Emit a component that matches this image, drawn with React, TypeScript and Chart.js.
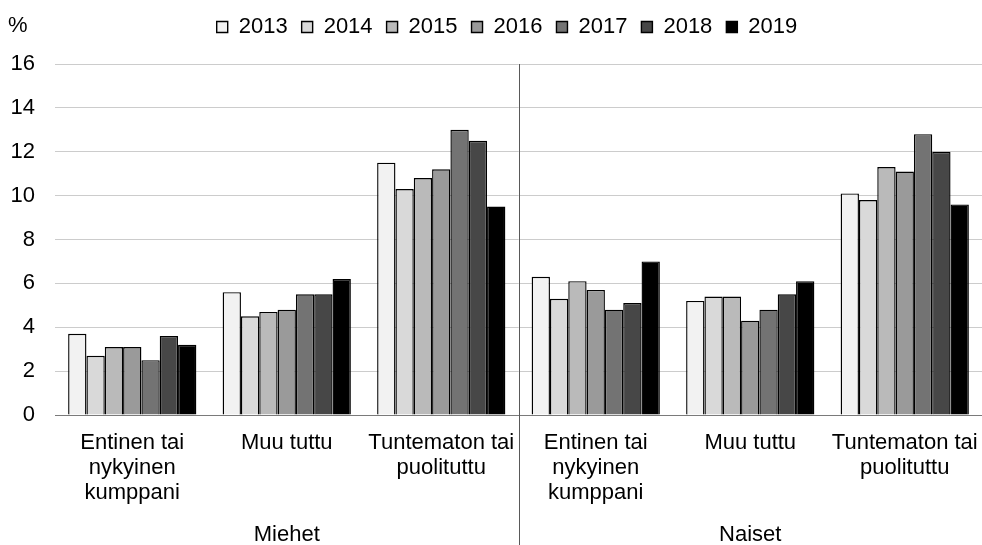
import React, { useEffect, useRef } from 'react';
import { Chart, registerables } from 'chart.js';

Chart.register(...registerables);

const categories: string[][] = [
  ['Entinen tai', 'nykyinen', 'kumppani'],
  ['Muu tuttu'],
  ['Tuntematon tai', 'puolituttu'],
  ['Entinen tai', 'nykyinen', 'kumppani'],
  ['Muu tuttu'],
  ['Tuntematon tai', 'puolituttu'],
];
const groups = ['Miehet', 'Naiset'];
const years = ['2013', '2014', '2015', '2016', '2017', '2018', '2019'];

const v2013 = [3.7, 5.6, 11.5, 6.3, 5.2, 10.1];
const v2014 = [2.7, 4.5, 10.3, 5.3, 5.4, 9.8];
const v2015 = [3.1, 4.7, 10.8, 6.1, 5.4, 11.3];
const v2016 = [3.1, 4.8, 11.2, 5.7, 4.3, 11.1];
const v2017 = [2.5, 5.5, 13.0, 4.8, 4.8, 12.8];
const v2018 = [3.6, 5.5, 12.5, 5.1, 5.5, 12.0];
const v2019 = [3.2, 6.2, 9.5, 7.0, 6.1, 9.6];

const seriesValues = [v2013, v2014, v2015, v2016, v2017, v2018, v2019];
const fills = ['#f2f2f2', '#d9d9d9', '#bababa', '#9a9a9a', '#737373', '#474747', '#000000'];

const yMin = 0;
const yMax = 16;
const yStep = 2;
const unitLabel = '%';

const FONT = "'Liberation Sans', Arial, sans-serif";

export default function App() {
  const ref = useRef<HTMLCanvasElement | null>(null);

  useEffect(() => {
    if (!ref.current) return;

    const unitPlugin = {
      id: 'unitLabel',
      afterDraw(chart: any) {
        const ctx = chart.ctx;
        ctx.save();
        ctx.font = `22px ${FONT}`;
        ctx.fillStyle = '#000';
        ctx.textAlign = 'left';
        ctx.textBaseline = 'middle';
        ctx.fillText(unitLabel, 8, 26);
        ctx.restore();
      },
    };

    const legendNudge = {
      id: 'legendNudge',
      afterLayout(chart: any) {
        if (chart.legend) {
          chart.legend.left += 32;
        }
      },
    };

    const dividerPlugin = {
      id: 'groupDivider',
      afterDraw(chart: any) {
        const x = chart.scales.x;
        const px = (x.getPixelForValue(2) + x.getPixelForValue(3)) / 2;
        const ctx = chart.ctx;
        ctx.save();
        ctx.strokeStyle = '#595959';
        ctx.lineWidth = 1;
        ctx.beginPath();
        const xx = Math.round(px) + 0.5;
        ctx.moveTo(xx, chart.chartArea.top);
        ctx.lineTo(xx, chart.height);
        ctx.stroke();
        ctx.restore();
      },
    };

    const noPad = (s: any) => {
      s.paddingLeft = 0;
      s.paddingRight = 0;
    };

    const chart = new Chart(ref.current, {
      type: 'bar',
      data: {
        labels: categories as any,
        datasets: years.map((y, i) => ({
          label: y,
          data: seriesValues[i],
          backgroundColor: fills[i],
          borderColor: '#000000',
          borderWidth: 1.4,
          categoryPercentage: 0.83,
          barPercentage: 1.0,
          xAxisID: 'x',
          yAxisID: 'y',
        })),
      },
      options: {
        animation: false,
        responsive: true,
        maintainAspectRatio: false,
        layout: { padding: { top: 2, left: 0, right: 0, bottom: 0 } },
        plugins: {
          legend: {
            position: 'top',
            align: 'center',
            labels: {
              boxWidth: 11,
              boxHeight: 11,
              padding: 14,
              color: '#000',
              font: { size: 22, family: FONT },
            },
          },
          title: {
            display: true,
            text: ' ',
            weight: 500,
            font: { size: 2, lineHeight: 1, family: FONT },
            padding: { top: 0, bottom: 14 },
          },
          tooltip: { enabled: false },
        },
        scales: {
          x: {
            type: 'category',
            position: 'bottom',
            grid: { display: false, drawTicks: false },
            border: { display: true, color: '#7a7a7a', width: 1 },
            ticks: {
              color: '#000',
              font: { size: 22, family: FONT, lineHeight: 1.15 },
              padding: 15,
              maxRotation: 0,
              autoSkip: false,
            },
            afterFit: (s: any) => {
              s.height = 90;
              noPad(s);
            },
          },
          x2: {
            type: 'category',
            labels: groups,
            position: 'bottom',
            grid: { display: false, drawTicks: false },
            border: { display: false },
            ticks: {
              color: '#000',
              font: { size: 22, family: FONT, lineHeight: 1.15 },
              padding: 17,
              maxRotation: 0,
            },
            afterFit: (s: any) => {
              s.height = 40;
              noPad(s);
            },
          },
          y: {
            min: yMin,
            max: yMax,
            position: 'left',
            grid: { color: '#cccccc', lineWidth: 1, drawTicks: false },
            border: { display: false },
            ticks: {
              stepSize: yStep,
              color: '#000',
              padding: 20,
              font: { size: 22, family: FONT },
            },
            afterFit: (s: any) => {
              s.width = 55;
            },
          },
        },
      },
      plugins: [unitPlugin, dividerPlugin, legendNudge],
    } as any);

    return () => chart.destroy();
  }, []);

  return (
    <div style={{ position: 'fixed', left: 0, top: 0, width: 982, height: 545, background: '#fff' }}>
      <canvas ref={ref} />
    </div>
  );
}
